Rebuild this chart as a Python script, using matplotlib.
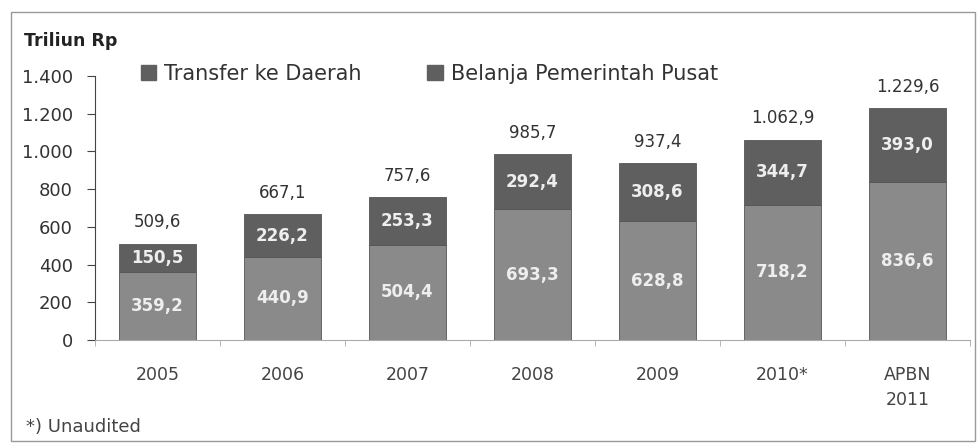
import matplotlib.pyplot as plt
from matplotlib.patches import Rectangle

plt.rcParams['font.family'] = ['DejaVu Sans']

# data (Triliun Rp)
years = ['2005', '2006', '2007', '2008', '2009', '2010*', 'APBN\n2011']
belanja_pusat = [359.2, 440.9, 504.4, 693.3, 628.8, 718.2, 836.6]
transfer_daerah = [150.5, 226.2, 253.3, 292.4, 308.6, 344.7, 393.0]
totals = [509.6, 667.1, 757.6, 985.7, 937.4, 1062.9, 1229.6]


def fmt_id(v, dec=1):
    # Indonesian style: dot thousands, comma decimals
    s = f'{v:,.{dec}f}'
    return s.replace(',', 'X').replace('.', ',').replace('X', '.')


c_bottom = '#8a8a8a'
c_top = '#5f5f5f'

fig = plt.figure(figsize=(9.78, 4.43), dpi=100)
ax = fig.add_axes([0.097, 0.2325, 0.895, 0.596])

x = range(len(years))
ax.bar(x, belanja_pusat, width=0.62, color=c_bottom, edgecolor='#555555', linewidth=0.6)
ax.bar(x, transfer_daerah, width=0.62, bottom=belanja_pusat, color=c_top,
       edgecolor='#555555', linewidth=0.6)

for i in x:
    ax.text(i, belanja_pusat[i] / 2, fmt_id(belanja_pusat[i]), ha='center', va='center',
            fontsize=12, color='#eeeeee', fontweight='bold')
    ax.text(i, belanja_pusat[i] + transfer_daerah[i] / 2, fmt_id(transfer_daerah[i]),
            ha='center', va='center', fontsize=12, color='#eeeeee', fontweight='bold')
    ax.annotate(fmt_id(totals[i]), (i, totals[i]), xytext=(0, 9), textcoords='offset points',
                ha='center', va='bottom', fontsize=12, color='#333333')

ax.set_xlim(-0.5, len(years) - 0.5)
ax.set_ylim(0, 1400)
ax.set_yticks(range(0, 1401, 200))
ax.set_yticklabels([fmt_id(v, 0) for v in range(0, 1401, 200)], fontsize=13, color='#333333')
ax.set_xticks(list(x))
ax.set_xticklabels(years, fontsize=12.5, color='#444444', linespacing=1.5)
ax.set_xticks([i + 0.5 for i in range(-1, len(years))], minor=True)
ax.tick_params(axis='x', which='major', length=0, pad=19)
ax.tick_params(axis='x', which='minor', length=4, color='#aaaaaa')
ax.tick_params(axis='y', length=6, color='#444444', pad=10)

for s in ['top', 'right']:
    ax.spines[s].set_visible(False)
ax.spines['left'].set_color('#444444')
ax.spines['bottom'].set_color('#aaaaaa')

# legend drawn as squares + text at top of plot area
fig.add_artist(Rectangle((0.144, 0.819), 0.016, 0.034, transform=fig.transFigure,
                         color=c_top))
fig.text(0.168, 0.834, 'Transfer ke Daerah', fontsize=15, color='#333333', va='center')
fig.add_artist(Rectangle((0.437, 0.819), 0.016, 0.034, transform=fig.transFigure,
                         color=c_top))
fig.text(0.461, 0.834, 'Belanja Pemerintah Pusat', fontsize=15, color='#333333', va='center')

fig.text(0.025, 0.908, 'Triliun Rp', fontsize=12.5, fontweight='bold', color='#222222',
         va='center')
fig.text(0.027, 0.037, '*) Unaudited', fontsize=13, color='#444444', va='center')

# outer border
fig.add_artist(Rectangle((0.011, 0.005), 0.986, 0.968, transform=fig.transFigure,
                         fill=False, edgecolor='#999999', linewidth=1))

fig.savefig('out.png', dpi=100)
